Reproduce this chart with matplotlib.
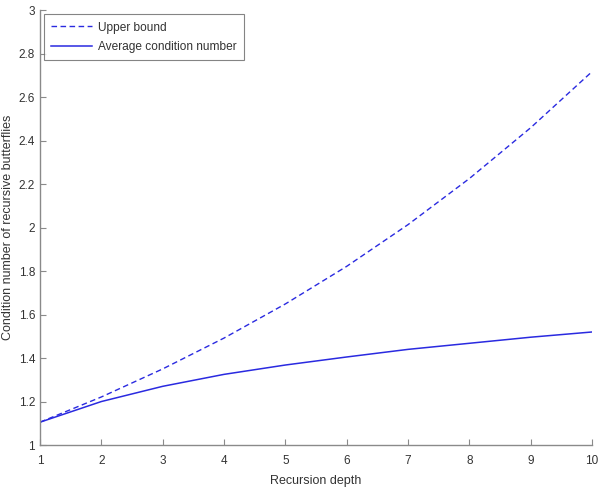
import matplotlib
matplotlib.use("Agg")
import matplotlib.pyplot as plt

depth = [1, 2, 3, 4, 5, 6, 7, 8, 9, 10]
upper_bound = [1.105, 1.221, 1.350, 1.492, 1.649, 1.822, 2.014, 2.226, 2.460, 2.718]
average_cond = [1.105, 1.200, 1.270, 1.325, 1.368, 1.405, 1.440, 1.468, 1.496, 1.520]
xticks = [1, 2, 3, 4, 5, 6, 7, 8, 9, 10]
yticks = [1, 1.2, 1.4, 1.6, 1.8, 2, 2.2, 2.4, 2.6, 2.8, 3]
ytick_labels = ["1", "1.2", "1.4", "1.6", "1.8", "2", "2.2", "2.4", "2.6", "2.8", "3"]

plt.rcParams['font.family'] = ['Liberation Sans', 'DejaVu Sans']
fig = plt.figure(figsize=(6.03, 4.87), dpi=100)
ax = fig.add_axes([0.0663, 0.0862, 0.9157, 0.8928])

blue = '#2a2ae0'
ax.plot(depth, upper_bound, '--', color=blue, lw=1.0, dashes=(4, 2.5), label='Upper bound')
ax.plot(depth, average_cond, '-', color=blue, lw=1.1, label='Average condition number')

ax.set_xlim(1, 10)
ax.set_ylim(1, 3)
ax.set_xticks(xticks)
ax.set_yticks(yticks)
ax.set_yticklabels(ytick_labels)
for s in ['top', 'right']:
    ax.spines[s].set_visible(False)
for s in ['left', 'bottom']:
    ax.spines[s].set_color('#8a8a8a')
    ax.spines[s].set_linewidth(1.0)
ax.tick_params(direction='in', length=4, color='#8a8a8a', labelsize=8.5, labelcolor='#333333')
ax.tick_params(axis='x', pad=7)
ax.set_xlabel('Recursion depth', fontsize=9, color='#333333', labelpad=6)
ax.set_ylabel('Condition number of recursive butterflies', fontsize=9, color='#333333', labelpad=3)

leg = ax.legend(loc='upper left', fontsize=8.6, frameon=True, fancybox=False,
                edgecolor='#666666', borderaxespad=0.35, handlelength=3.4,
                borderpad=0.6, labelspacing=0.6, handletextpad=0.5,
                labelcolor='#333333')
leg.get_frame().set_linewidth(0.8)

fig.savefig('out.png', dpi=100)
